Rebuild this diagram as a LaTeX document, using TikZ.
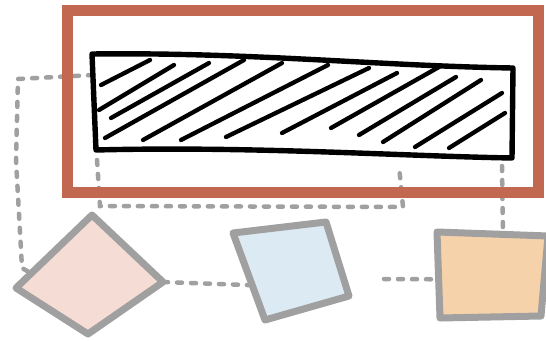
\documentclass[tikz,border=0pt]{standalone}
\usetikzlibrary{calc}
\definecolor{frameorange}{RGB}{194,104,80}
\definecolor{sketchgray}{RGB}{160,160,160}
\definecolor{pinkfill}{RGB}{245,220,212}
\definecolor{bluefill}{RGB}{220,234,243}
\definecolor{orangefill}{RGB}{246,210,170}
\tikzset{
  dashlink/.style={draw=sketchgray, line width=4.5pt, dash pattern=on 5pt off 9pt, line cap=round},
  shapeline/.style={draw=sketchgray, line width=7pt, line join=round},
  hatch/.style={draw=black, line width=4.3pt, line cap=round},
  boxline/.style={draw=black, line width=5.4pt, line join=round, line cap=round},
  frameline/.style={draw=frameorange, line width=11pt},
}
\begin{document}
\begin{tikzpicture}[x=1pt,y=-1pt]
\useasboundingbox (0,0) rectangle (546,340);
% named coordinates
\coordinate (boxTL) at (92,54);
\coordinate (boxTR) at (513,68);
\coordinate (boxBR) at (512,158);
\coordinate (boxBL) at (96,150);
\coordinate (boxL) at (93,75);
\coordinate (boxBa) at (97,160);
\coordinate (boxBb) at (399,166);
\coordinate (boxBc) at (502,166);
\coordinate (dT) at (92,215);
\coordinate (dL) at (16,288);
\coordinate (dB) at (88,334);
\coordinate (dR) at (163,282);
\coordinate (bTL) at (233,233);
\coordinate (bTR) at (326,222);
\coordinate (bBR) at (349,296);
\coordinate (bBL) at (265,320);
\coordinate (oTL) at (437,232);
\coordinate (oTR) at (548,236);
\coordinate (oBR) at (541,316);
\coordinate (oBL) at (440,318);
\coordinate (oTop) at (503,234);
% connectors
\draw[dashlink] (boxL) -- (18,79) -- (16,160) -- (22,268) -- ($(dL)!0.2!(dT)$);
\draw[dashlink] (boxBa) -- (100,206) -- (403,207) -- (boxBb);
\draw[dashlink] (boxBc) -- (oTop);
\draw[dashlink] (dR) -- ($(bTL)!0.6!(bBL)$);
\draw[dashlink] (384,279) -- ($(oTL)!0.55!(oBL)$);
% gray shapes
\draw[shapeline, fill=pinkfill] (dT) -- (dR) -- (dB) -- (dL) -- cycle;
\draw[shapeline, fill=bluefill] (bTL) -- (bTR) -- (bBR) -- (bBL) -- cycle;
\draw[shapeline, fill=orangefill] (oTL) -- (oTR) -- (oBR) -- (oBL) -- cycle;
% hatched box
\draw[hatch] (101,85) -- (150,60);
\draw[hatch] (99,110) -- (174,65);
\draw[hatch] (111,118) -- (209,63);
\draw[hatch] (105,138) -- (244,60);
\draw[hatch] (143,140) -- (282,63);
\draw[hatch] (181,140) -- (328,65);
\draw[hatch] (226,137) -- (369,68);
\draw[hatch] (282,133) -- (397,73);
\draw[hatch] (331,128) -- (439,67);
\draw[hatch] (359,135) -- (456,77);
\draw[hatch] (383,142) -- (481,80);
\draw[hatch] (415,147) -- (502,93);
\draw[hatch] (449,148) -- (505,113);
\draw[boxline] (boxTL) .. controls (250,52) and (380,66) .. (boxTR) -- (boxBR) .. controls (400,156) and (250,146) .. (boxBL) -- cycle;
% orange frame
\draw[frameline] (67.5,10.5) rectangle (538,192);
\end{tikzpicture}
\end{document}
